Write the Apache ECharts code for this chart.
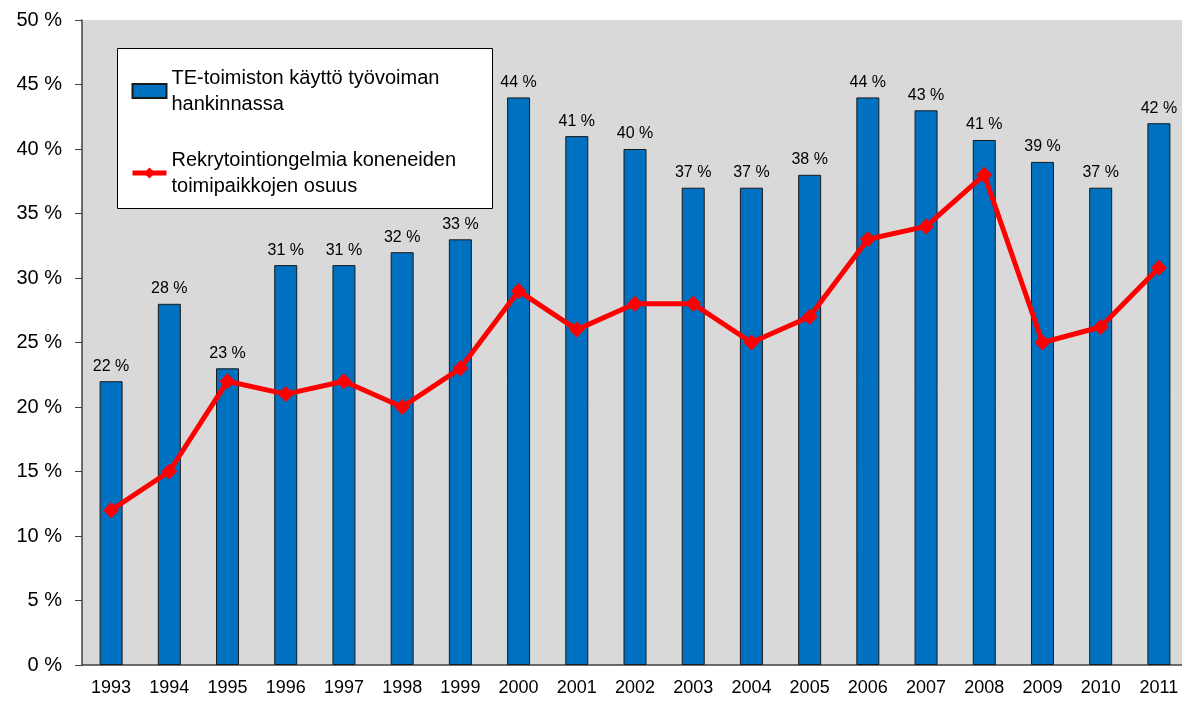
<!DOCTYPE html>
<html lang="fi">
<head>
    <meta charset="UTF-8">
    <title>TE-toimiston käyttö</title>
    <script src="https://cdn.jsdelivr.net/npm/echarts@6/dist/echarts.min.js"></script>
    <style>
        html, body { margin: 0; padding: 0; background: #fff; }
        #main { width: 1182px; height: 701px; }
    </style>
</head>
<body>
<div id="main"></div>
<script type="text/javascript">
    // vuodet
    var years = ['1993', '1994', '1995', '1996', '1997', '1998', '1999', '2000', '2001', '2002',
        '2003', '2004', '2005', '2006', '2007', '2008', '2009', '2010', '2011'];
    // TE-toimiston käyttö (pylväät)
    var teKaytto = [22, 28, 23, 31, 31, 32, 33, 44, 41, 40, 37, 37, 38, 44, 43, 40.7, 39, 37, 42];
    // rekrytointiongelmat (viiva)
    var rekry = [12, 15, 22, 21, 22, 20, 23, 29, 26, 28, 28, 25, 27, 33, 34, 38, 25, 26.2, 30.8];
    var yTicks = [0, 50, 5];

    var nameBar = 'TE-toimiston käyttö työvoiman\nhankinnassa';
    var nameLine = 'Rekrytointiongelmia koneneiden\ntoimipaikkojen osuus';

    var myChart = echarts.init(document.getElementById('main'));
    myChart.setOption({
        animation: false,
        textStyle: {fontFamily: 'Liberation Sans, Arial, sans-serif', color: '#000'},
        grid: {
            left: 82, top: 20, width: 1106, height: 645,
            outerBoundsMode: 'none',
            show: true, backgroundColor: '#d9d9d9', borderWidth: 0
        },
        graphic: [{
            type: 'rect', z: 3,
            shape: {x: 117.5, y: 48.5, width: 375, height: 160},
            style: {fill: '#fff', stroke: '#000', lineWidth: 1}
        }],
        legend: {
            orient: 'vertical', left: 130, top: 52, z: 5, padding: 0,
            itemWidth: 34, itemHeight: 14, itemGap: 4,
            data: [{name: nameBar, icon: 'rect'}, {name: nameLine}],
            lineStyle: {width: 5},
            textStyle: {fontSize: 20, lineHeight: 26, padding: [26, 0, 0, 0], color: '#000',
                fontFamily: 'Liberation Sans, Arial, sans-serif'}
        },
        xAxis: {
            type: 'category',
            data: years,
            axisLine: {lineStyle: {color: '#404040', width: 1.5}},
            axisTick: {length: 7, lineStyle: {color: '#404040'}},
            axisLabel: {fontSize: 18, color: '#000', margin: 14}
        },
        yAxis: {
            type: 'value',
            min: yTicks[0], max: yTicks[1], interval: yTicks[2],
            splitLine: {show: false},
            axisLine: {show: true, lineStyle: {color: '#404040', width: 1.5}},
            axisTick: {show: true, length: 7, lineStyle: {color: '#404040'}},
            axisLabel: {fontSize: 20, color: '#000', margin: 20, formatter: '{value} %'}
        },
        series: [
            {
                name: nameBar,
                type: 'bar',
                data: teKaytto,
                barWidth: 23,
                itemStyle: {color: '#0070c0', borderColor: '#1a1a1a', borderWidth: 1},
                label: {
                    show: true, position: 'top', distance: 7,
                    fontSize: 16, color: '#000',
                    formatter: function (p) { return Math.round(p.value) + ' %'; }
                }
            },
            {
                name: nameLine,
                type: 'line',
                data: rekry,
                z: 4,
                symbol: 'diamond',
                symbolSize: 16,
                lineStyle: {color: '#ff0000', width: 5},
                itemStyle: {color: '#ff0000'}
            }
        ]
    });
</script>
</body>
</html>
